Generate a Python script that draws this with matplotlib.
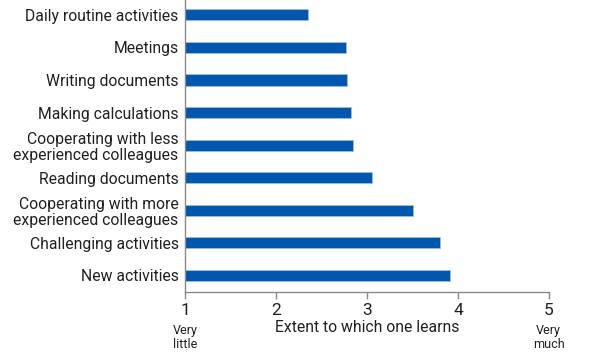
import matplotlib
matplotlib.use("Agg")
import matplotlib.pyplot as plt
import numpy as np

# categories listed bottom -> top as drawn
activities = [
    "New activities",
    "Challenging activities",
    "Cooperating with more\nexperienced colleagues",
    "Reading documents",
    "Cooperating with less\nexperienced colleagues",
    "Making calculations",
    "Writing documents",
    "Meetings",
    "Daily routine activities",
]
scores = [3.91, 3.80, 3.50, 3.05, 2.85, 2.82, 2.78, 2.77, 2.35]
x_ticks = [1, 2, 3, 4, 5]

BLUE = "#0057ad"
GREY = "#8a8a8a"
TEXT = "#231f20"

plt.rcParams["font.family"] = ["Roboto", "DejaVu Sans"]

fig = plt.figure(figsize=(6.05, 3.62), dpi=100)
ax = fig.add_axes([0.3066, 0.194, 0.6004, 0.806])

y = np.arange(len(activities))
ax.barh(y, [s - 1 for s in scores], left=1, height=0.34, color=BLUE,
        edgecolor="#9dbbe0", linewidth=0.6)

ax.set_xlim(1, 5)
ax.set_ylim(-0.51, 8.46)
ax.set_yticks(y)
ax.set_yticklabels(activities, fontsize=11.3, color=TEXT, linespacing=1.15)
ax.tick_params(axis="y", length=0, pad=5)
ax.set_xticks(x_ticks)
ax.set_xticklabels([str(t) for t in x_ticks], fontsize=12.5, color=TEXT)
ax.tick_params(axis="x", length=5, width=1, color=GREY, pad=3)

for side in ("top", "right"):
    ax.spines[side].set_visible(False)
for side in ("left", "bottom"):
    ax.spines[side].set_color(GREY)
    ax.spines[side].set_linewidth(1)

ax.text(1, -1.92, "Very\nlittle", ha="center", va="center", fontsize=9,
        color=TEXT, linespacing=1.15, clip_on=False)
ax.text(5, -1.92, "Very\nmuch", ha="center", va="center", fontsize=9,
        color=TEXT, linespacing=1.15, clip_on=False)
ax.text(3, -1.60, "Extent to which one learns", ha="center", va="center",
        fontsize=11.3, color=TEXT, clip_on=False)

fig.savefig("out.png", dpi=100)
